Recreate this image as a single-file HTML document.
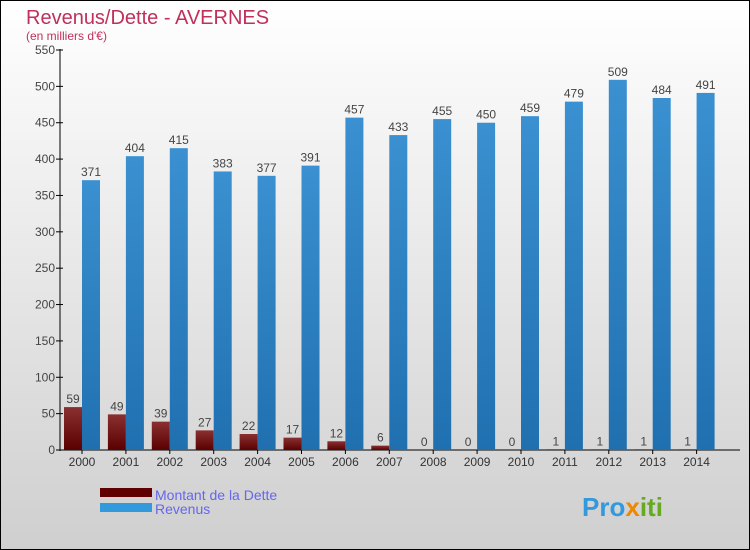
<!DOCTYPE html>
<html><head><meta charset="utf-8"><style>
body{margin:0;}
#c{width:750px;height:550px;position:relative;overflow:hidden;}
svg text{font-family:"Liberation Sans",sans-serif;}
</style></head><body>
<div id="c">
<svg id="s" width="750" height="550" xmlns="http://www.w3.org/2000/svg">
<defs>
<linearGradient id="bg" x1="0" y1="0" x2="0" y2="1"><stop offset="0" stop-color="#ffffff"/><stop offset="1" stop-color="#cfcfcf"/></linearGradient>
<linearGradient id="gd" x1="0" y1="0" x2="0" y2="1"><stop offset="0" stop-color="#8a3030"/><stop offset="1" stop-color="#5a0000"/></linearGradient>
<linearGradient id="gr" x1="0" y1="0" x2="0" y2="1"><stop offset="0" stop-color="#3a90d0"/><stop offset="1" stop-color="#2070b0"/></linearGradient>
</defs>
<rect x="0.5" y="0.5" width="749" height="549" fill="url(#bg)" stroke="#000"/>
<text x="26" y="24" font-size="20" fill="#c0305a">Revenus/Dette - AVERNES</text>
<text x="26" y="40" font-size="12" fill="#c0305a">(en milliers d'€)</text>
<g id="plot"></g>
<rect x="100" y="488" width="52" height="9" fill="#600000"/>
<rect x="100" y="503" width="52" height="9" fill="#3399dd"/>
<text x="155" y="500" font-size="14" fill="#6666ee">Montant de la Dette</text>
<text x="155" y="514" font-size="14" fill="#6666ee">Revenus</text>
<text x="582" y="516" font-size="26" font-weight="bold" fill="#3399dd">Pro<tspan fill="#ee8800">x</tspan><tspan fill="#66aa22">iti</tspan></text>
</svg></div>
<script>
const years=["2000","2001","2002","2003","2004","2005","2006","2007","2008","2009","2010","2011","2012","2013","2014"];
const dette=[59,49,39,27,22,17,12,6,0,0,0,1,1,1,1];
const revenus=[371,404,415,383,377,391,457,433,455,450,459,479,509,484,491];
const ticks=[0,50,100,150,200,250,300,350,400,450,500,550];
const NS="http://www.w3.org/2000/svg";
const g=document.getElementById('plot');
function y(v){return 450-v*400/550;}
function x(i){return 82+i*43.9;}
function mk(t,a){const e=document.createElementNS(NS,t);for(const k in a)e.setAttribute(k,a[k]);g.appendChild(e);return e;}
let ax=mk('line',{x1:60,y1:49,x2:60,y2:451,stroke:'#000'});


let bx=mk('line',{x1:60,y1:450,x2:740,y2:450,stroke:'#000'});


ticks.forEach(t=>{
 let l=mk('line',{x1:56,y1:y(t),x2:63,y2:y(t),stroke:'#000'});
 
 
 let tx=mk('text',{x:55,y:y(t)+4,'font-size':12,fill:'#444','text-anchor':'end'});tx.textContent=t;
 
 
});
years.forEach((yr,i)=>{
 const cx=x(i);
 let d=mk('rect',{x:cx-18,y:y(dette[i]),width:18,height:450-y(dette[i]),fill:'url(#gd)'});
 
 
 let r=mk('rect',{x:cx,y:y(revenus[i]),width:18,height:450-y(revenus[i]),fill:'url(#gr)'});
 
 
 let t1=mk('text',{x:cx-9,y:y(dette[i])-4,'font-size':12,fill:'#444','text-anchor':'middle'});t1.textContent=dette[i];
 
 
 let t2=mk('text',{x:cx+9,y:y(revenus[i])-4,'font-size':12,fill:'#444','text-anchor':'middle'});t2.textContent=revenus[i];
 
 
 let tl=mk('line',{x1:cx,y1:450,x2:cx,y2:454,stroke:'#000'});
 
 
 let xl=mk('text',{x:cx,y:466,'font-size':12,fill:'#333','text-anchor':'middle'});xl.textContent=yr;
 
 
});
</script>
</body></html>
